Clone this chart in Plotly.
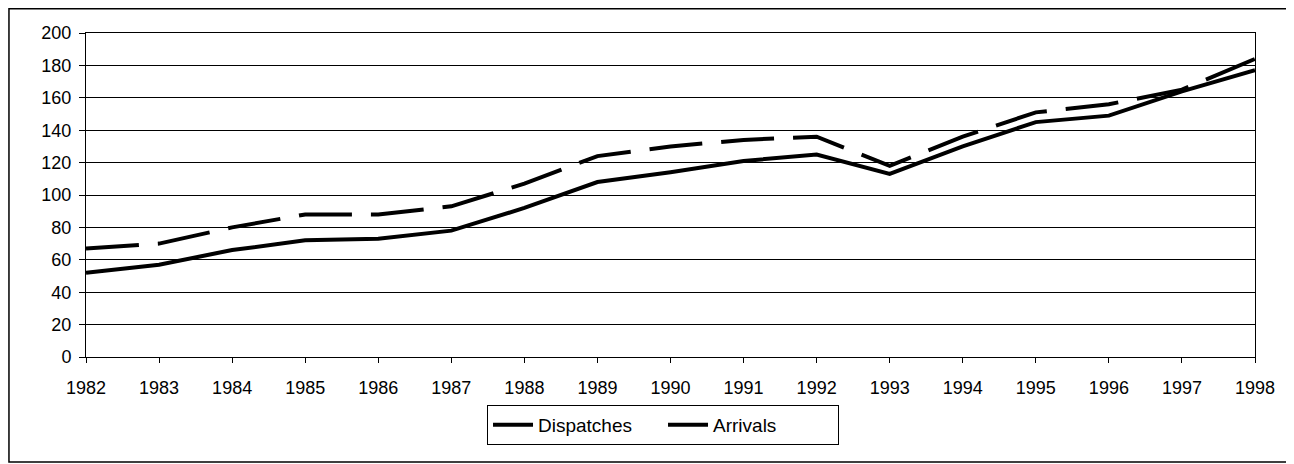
import plotly.graph_objects as go

years = list(range(1982, 1999))
dispatches = [52, 57, 66, 72, 73, 78, 92, 108, 114, 121, 125, 113, 130, 145, 149, 164, 177]
arrivals = [67, 70, 80, 88, 88, 93, 107, 124, 130, 134, 136, 118, 136, 151, 156, 165, 184]
y_ticks = list(range(0, 201, 20))

fig = go.Figure()
fig.add_trace(go.Scatter(x=years, y=dispatches, name="Dispatches", mode="lines",
                         line=dict(color="black", width=4)))
fig.add_trace(go.Scatter(x=years, y=arrivals, name="Arrivals", mode="lines",
                         line=dict(color="black", width=4, dash="53px,19px")))

font = "Liberation Sans, Arial, sans-serif"
# page body has an 8px margin; figure sized/offset to compensate
fig.update_layout(
    width=1286, height=456,
    margin=dict(l=78, r=39, t=25, b=107),
    paper_bgcolor="white", plot_bgcolor="white",
    font=dict(family=font, color="black", size=18),
    showlegend=True,
    legend=dict(orientation="h", x=0.4936, y=-0.148, xanchor="center", yanchor="top",
                bordercolor="black", borderwidth=1, font=dict(size=19),
                itemwidth=40, tracegroupgap=0, entrywidth=120),
    xaxis=dict(range=[1982, 1998], tickvals=years, ticktext=[str(y) for y in years],
               showgrid=False, showline=True, linecolor="black", linewidth=1,
               mirror=True, ticks="outside", ticklen=5, tickcolor="black",
               zeroline=False, tickfont=dict(size=18), ticklabelstandoff=9),
    yaxis=dict(range=[0, 200], tickvals=y_ticks, showgrid=True, gridcolor="black",
               gridwidth=1, showline=True, linecolor="black", linewidth=1,
               mirror=True, ticks="outside", ticklen=6, tickcolor="black",
               zeroline=False, tickfont=dict(size=18), ticklabelstandoff=4),
    shapes=[dict(type="rect", xref="paper", yref="paper",
                 x0=-0.0659, x1=1.0274, y0=-0.324, y1=1.075,
                 line=dict(color="black", width=1.5), fillcolor="rgba(0,0,0,0)")],
)

fig.write_html("out.html")
